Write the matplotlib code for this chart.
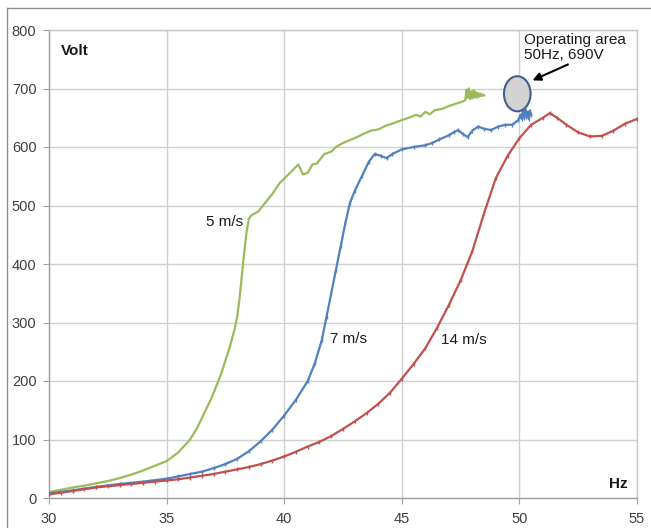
import matplotlib
matplotlib.use("Agg")
import matplotlib.pyplot as plt
from matplotlib.patches import Ellipse
from matplotlib.lines import Line2D

plt.rcParams['font.family'] = ['Liberation Sans', 'DejaVu Sans']

# ---- data ----
green_hz = [30, 30.5, 31, 31.5, 32, 32.5, 33, 33.5, 34, 34.5, 35, 35.5, 36, 36.3, 36.6, 36.9,
            37.1, 37.3, 37.5, 37.7, 37.9, 38.0, 38.1, 38.2, 38.3, 38.4, 38.5, 38.6, 38.9, 39.2,
            39.5, 39.8, 40.1, 40.4, 40.6, 40.8, 41.0, 41.2, 41.4, 41.7, 42.0, 42.2, 42.5, 42.8,
            43.1, 43.4, 43.7, 44.0, 44.3, 44.6, 45.0, 45.3, 45.6, 45.8, 46.0, 46.2, 46.4, 46.7,
            47.0, 47.3, 47.6, 47.7, 47.75, 47.8, 47.85, 47.9, 47.95, 48.0, 48.05, 48.1, 48.15,
            48.2, 48.25, 48.3, 48.35, 48.4, 48.45, 48.5]
green_v = [10, 14, 18, 21, 25, 29, 34, 40, 47, 55, 63, 78, 100, 120, 145, 170,
           190, 210, 235, 260, 290, 310, 340, 380, 420, 455, 478, 483, 490, 505,
           520, 538, 550, 562, 570, 553, 556, 570, 572, 588, 592, 600, 607, 612,
           617, 623, 628, 630, 636, 640, 646, 650, 655, 652, 660, 656, 663, 665,
           670, 674, 678, 680, 698, 684, 700, 682, 695, 683, 697, 685, 694,
           684, 692, 686, 691, 687, 690, 688]

blue_hz = [30, 31, 32, 33, 34, 35, 35.5, 36, 36.5, 37, 37.5, 38, 38.5, 39, 39.5, 40, 40.5,
           41, 41.3, 41.6, 41.8, 42, 42.2, 42.4, 42.6, 42.8, 43.0, 43.3, 43.6, 43.85, 44.1,
           44.35, 44.6, 45, 45.5, 46, 46.3, 46.6, 47.0, 47.2, 47.4, 47.6, 47.8, 48.0, 48.25,
           48.5, 48.8, 49.1, 49.4, 49.7, 49.95, 50.05, 50.1, 50.15, 50.2, 50.25, 50.3, 50.35,
           50.4, 50.45, 50.5]
blue_v = [8, 13, 19, 24, 28, 33, 37, 41, 45, 51, 58, 67, 80, 97, 117, 141, 168,
          200, 230, 270, 310, 350, 390, 430, 470, 505, 525, 550, 575, 588, 585,
          581, 588, 596, 600, 603, 607, 613, 620, 625, 629, 622, 617, 628, 635,
          631, 629, 635, 638, 638, 646, 655, 648, 662, 650, 665, 652, 660,
          648, 662, 655]

red_hz = [30, 30.5, 31, 31.5, 32, 32.5, 33, 33.5, 34, 34.5, 35, 35.5, 36, 36.5, 37, 37.5,
          38, 38.5, 39, 39.5, 40, 40.5, 41, 41.5, 42, 42.5, 43, 43.5, 44, 44.5, 45, 45.5,
          46, 46.5, 47, 47.5, 48, 48.5, 49, 49.5, 50, 50.5, 51, 51.3, 51.6, 52, 52.5, 53,
          53.5, 54, 54.5, 55]
red_v = [6, 9, 12, 15, 18, 20, 22, 24, 26, 28, 30, 32, 35, 38, 41, 45,
         49, 53, 58, 64, 71, 79, 88, 96, 106, 118, 131, 145, 161, 180, 204, 229,
         256, 291, 330, 372, 422, 487, 547, 585, 615, 638, 650, 658, 650, 638, 625, 618,
         619, 628, 640, 648]

x_ticks = [30, 35, 40, 45, 50, 55]
y_ticks = [0, 100, 200, 300, 400, 500, 600, 700, 800]

GREEN = '#9bbb59'
BLUE = '#4f81bd'
RED = '#c0504d'

fig = plt.figure(figsize=(6.51, 5.28), dpi=100)
ax = fig.add_axes([49/651, 1-498/528, (637-49)/651, (498-30)/528])

ax.plot(green_hz, green_v, color=GREEN, lw=1.6, zorder=3)
ax.plot(blue_hz, blue_v, color=BLUE, lw=1.6, marker='|', ms=2.5, mew=1, zorder=3)
ax.plot(red_hz, red_v, color=RED, lw=1.6, marker='|', ms=3, mew=1, zorder=3)

ax.set_xlim(30, 55)
ax.set_ylim(0, 800)
ax.set_xticks(x_ticks)
ax.set_yticks(y_ticks)
ax.grid(True, color='#d0d0d0', lw=1)
ax.set_axisbelow(True)
for s in ax.spines.values():
    s.set_color('#c8c8c8')
    s.set_linewidth(1)
ax.spines['left'].set_color('#a0a0a0')
ax.spines['bottom'].set_color('#a0a0a0')
ax.tick_params(axis='both', labelsize=10.5, colors='#a0a0a0', labelcolor='#404040', length=4)
ax.tick_params(axis='x', pad=6)
ax.tick_params(axis='y', pad=5)

ax.text(30.5, 764, 'Volt', fontsize=11, fontweight='bold', ha='left', va='center', color='#1a1a1a')
ax.text(54.6, 24, 'Hz', fontsize=11, fontweight='bold', ha='right', va='center', color='#1a1a1a')
ax.text(37.48, 472, '5 m/s', fontsize=11, ha='center', va='center', color='#1a1a1a')
ax.text(42.75, 272, '7 m/s', fontsize=11, ha='center', va='center', color='#1a1a1a')
ax.text(47.63, 270, '14 m/s', fontsize=11, ha='center', va='center', color='#1a1a1a')

ell = Ellipse((49.91, 691), 1.13, 60, facecolor='#d3d3d3', edgecolor='#3f5f8f', lw=1.5, zorder=4)
ax.add_patch(ell)
ax.annotate('', xy=(50.45, 712), xytext=(52.17, 743),
            arrowprops=dict(arrowstyle='-|>', color='black', lw=1.5, mutation_scale=12), zorder=5)
ax.text(50.2, 795, 'Operating area\n50Hz, 690V', fontsize=11, ha='left', va='top',
        color='#1a1a1a', linespacing=1.1)

# outer frame (left and top visible)
fig.add_artist(Line2D([7/651, 7/651], [0, 1-8/528], transform=fig.transFigure, color='#909090', lw=1))
fig.add_artist(Line2D([7/651, 1], [1-8/528, 1-8/528], transform=fig.transFigure, color='#909090', lw=1))

fig.savefig('out.png', dpi=100)
